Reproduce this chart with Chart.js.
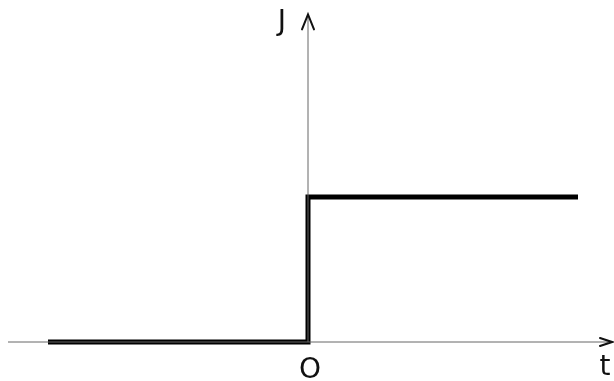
<!DOCTYPE html>
<html>
<head>
<meta charset="utf-8">
<script src="https://cdn.jsdelivr.net/npm/chart.js@4/dist/chart.umd.min.js"></script>
<style>
  html, body { margin: 0; padding: 0; background: #fff; }
  #wrap { width: 614px; height: 381px; }
</style>
</head>
<body>
<div id="wrap"><canvas id="c"></canvas></div>
<script>
// step function J(t): 0 before t=0, 1 after
const stepT = [-2.6, 0, 2.7];
const stepJ = [0, 1, 1];

// axes drawn as thin lines
const tAxisT = [-3.0, 3.04];
const tAxisJ = [0, 0];
const jAxisT = [0, 0];
const jAxisJ = [0, 2.26];

const axisLabels = ['J', 'O', 't'];

const toPts = (xs, ys) => xs.map((x, i) => ({x: x, y: ys[i]}));

// arrowheads + hand labels
const sketchBits = {
  id: 'sketchBits',
  afterDatasetsDraw(chart) {
    const ctx = chart.ctx;
    const xs = chart.scales.x, ys = chart.scales.y;
    ctx.save();
    ctx.strokeStyle = '#111';
    ctx.lineWidth = 2;
    ctx.lineCap = 'round';
    // y arrow
    let px = xs.getPixelForValue(jAxisT[1]), py = ys.getPixelForValue(jAxisJ[1]);
    ctx.beginPath();
    ctx.moveTo(px - 6, py + 15); ctx.lineTo(px, py); ctx.lineTo(px + 6, py + 15);
    ctx.stroke();
    // t arrow
    px = xs.getPixelForValue(tAxisT[1]); py = ys.getPixelForValue(tAxisJ[1]);
    ctx.beginPath();
    ctx.moveTo(px - 12, py - 4); ctx.lineTo(px, py); ctx.lineTo(px - 12, py + 4);
    ctx.stroke();

    ctx.fillStyle = '#111';
    ctx.font = '28px "DejaVu Sans"';
    ctx.textAlign = 'center';
    ctx.textBaseline = 'middle';
    ctx.fillText(axisLabels[0], xs.getPixelForValue(-0.26), ys.getPixelForValue(2.2));
    ctx.fillText(axisLabels[1], xs.getPixelForValue(0.02), ys.getPixelForValue(-0.2));
    ctx.fillText(axisLabels[2], xs.getPixelForValue(2.97), ys.getPixelForValue(-0.18));
    ctx.restore();
  }
};

new Chart(document.getElementById('c'), {
  type: 'line',
  data: {
    datasets: [
      {
        label: 't axis',
        data: toPts(tAxisT, tAxisJ),
        borderColor: '#666',
        borderWidth: 1,
        pointRadius: 0
      },
      {
        label: 'J axis',
        data: toPts(jAxisT, jAxisJ),
        borderColor: '#666',
        borderWidth: 1,
        pointRadius: 0
      },
      {
        label: 'J(t)',
        data: toPts(stepT, stepJ),
        stepped: 'before',
        borderColor: '#000',
        borderWidth: 5,
        borderCapStyle: 'butt',
        borderJoinStyle: 'miter',
        pointRadius: 0
      }
    ]
  },
  options: {
    responsive: true,
    maintainAspectRatio: false,
    animation: false,
    layout: { padding: 0 },
    plugins: { legend: { display: false }, tooltip: { enabled: false } },
    scales: {
      x: { type: 'linear', min: -3.08, max: 3.06, display: false },
      y: { type: 'linear', min: -0.269, max: 2.359, display: false }
    }
  },
  plugins: [sketchBits]
});
</script>
</body>
</html>
